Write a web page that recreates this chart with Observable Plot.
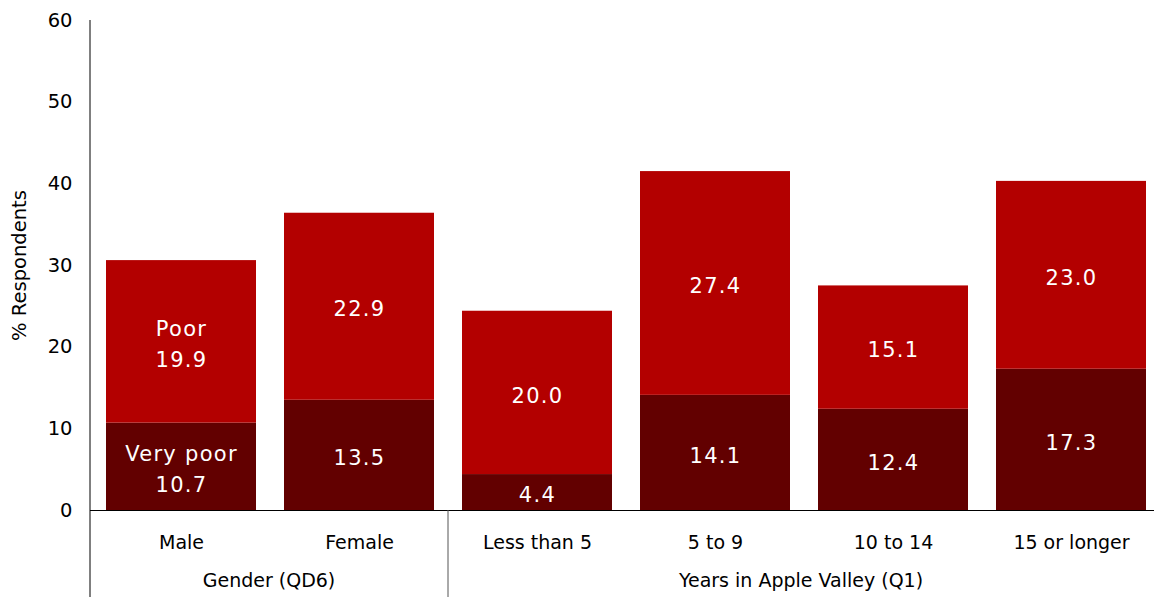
<!DOCTYPE html>
<html><head><meta charset="utf-8">
<script src="https://cdn.jsdelivr.net/npm/d3@7"></script>
<script src="https://cdn.jsdelivr.net/npm/@observablehq/plot@0.6"></script>
<style>
body{margin:0;background:#fff}
#chart svg g[aria-label="text"] text{letter-spacing:1.3px}
</style>
</head><body><div id="chart"></div>
<script>
const categories = ["Male", "Female", "Less than 5", "5 to 9", "10 to 14", "15 or longer"];
const groupNames = ["Gender (QD6)", "Years in Apple Valley (Q1)"];
const groupOf = [0, 0, 1, 1, 1, 1];
const seriesNames = ["Very poor", "Poor"];
const veryPoor = [10.7, 13.5, 4.4, 14.1, 12.4, 17.3];
const poor = [19.9, 22.9, 20.0, 27.4, 15.1, 23.0];
const yTicks = [0, 10, 20, 30, 40, 50, 60];
const colors = ["#620000", "#b30000"];

const data = [];
categories.forEach((c, i) => {
  data.push({category: c, series: "Very poor", value: veryPoor[i]});
  data.push({category: c, series: "Poor", value: poor[i]});
});
data.forEach(d => {
  d.label = d.category === categories[0] ? d.series + "\n" + d.value.toFixed(1) : d.value.toFixed(1);
});

const W = 1154, H = 597;
const plot = Plot.plot({
  width: W, height: H,
  marginLeft: 90, marginRight: -7, marginTop: 20, marginBottom: 87,
  style: {fontFamily: "'DejaVu Sans', sans-serif", fontSize: "19px", color: "#000", background: "#fff"},
  x: {domain: categories, paddingInner: 0.158, paddingOuter: 0.084, label: null},
  y: {domain: [0, 60], label: null},
  color: {domain: seriesNames, range: colors},
  marks: [
    Plot.barY(data, Plot.stackY({x: "category", y: "value", fill: "series"})),
    Plot.text(data, Plot.stackY({x: "category", y: "value", z: "series", text: "label", fill: "white", fontSize: 21, lineHeight: 1.45})),
    Plot.ruleY([0], {stroke: "#000", strokeWidth: 1}),
    Plot.axisY({ticks: yTicks, tickSize: 0, tickPadding: 18, tickFormat: d => d, label: "% Respondents", labelAnchor: "center", labelOffset: 78, labelArrow: "none", fontSize: 19.5}),
    Plot.axisX({tickSize: 0, tickPadding: 25, label: null, fontSize: 19})
  ]
});
document.getElementById("chart").appendChild(plot);

const sx = plot.scale("x"), sy = plot.scale("y");
const svg = d3.select(plot);
const left = 90, right = W;
const gap = sx.step - sx.bandwidth;
const boundary = sx.apply(categories[groupOf.indexOf(1)]) - gap / 2;
const y0 = sy.apply(0), yTop = sy.apply(60);
const g = svg.append("g");
g.append("line").attr("x1", left).attr("x2", left).attr("y1", yTop).attr("y2", H).attr("stroke", "#000");
g.append("line").attr("x1", boundary).attr("x2", boundary).attr("y1", y0).attr("y2", H).attr("stroke", "#555");
const centers = [(left + boundary) / 2, (boundary + right) / 2];
groupNames.forEach((name, i) => {
  g.append("text").attr("x", centers[i]).attr("y", 581).attr("text-anchor", "middle")
    .attr("dominant-baseline", "middle").attr("font-size", 19).attr("fill", "#000").text(name);
});
</script>
</body></html>
